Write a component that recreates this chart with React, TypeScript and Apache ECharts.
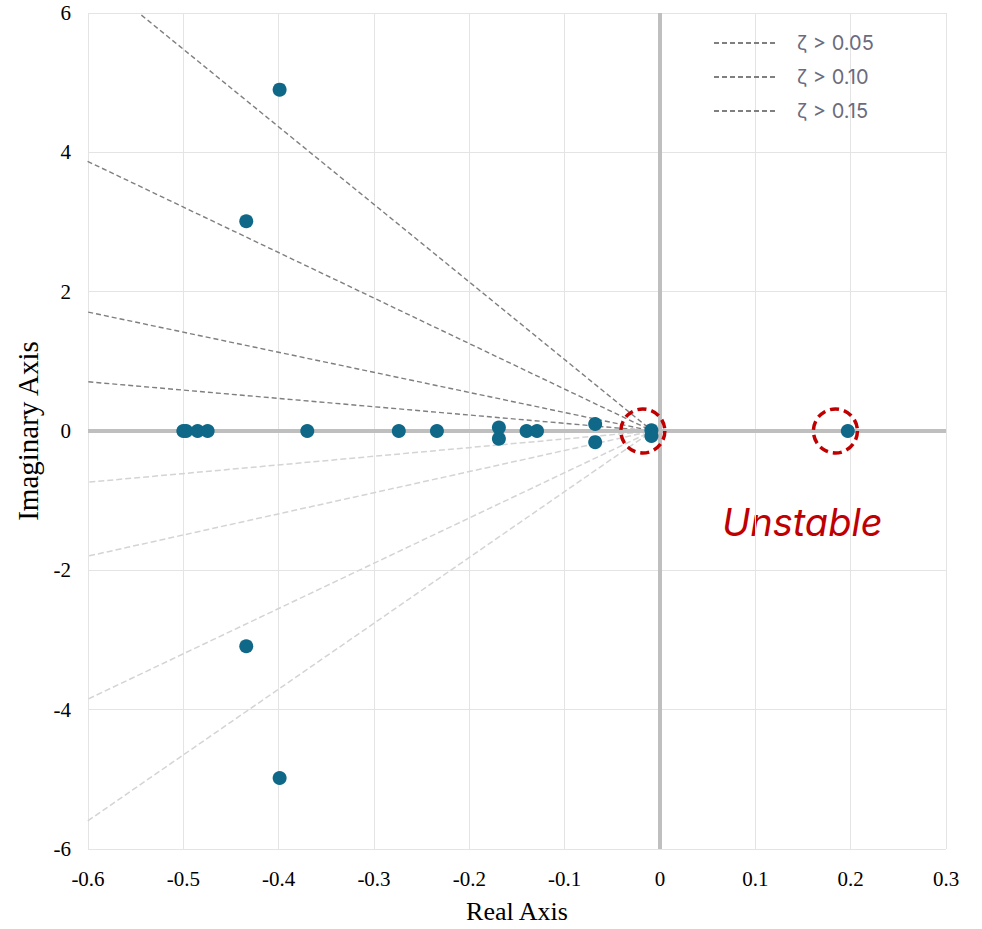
import React, { useEffect, useRef } from "react";
import * as echarts from "echarts";

// Poles (real part, imaginary part)
const poleRe = [-0.399, -0.434, -0.434, -0.399, -0.5, -0.497, -0.485, -0.4745, -0.37, -0.274, -0.234, -0.169, -0.169, -0.14, -0.129, -0.068, -0.068, -0.009, -0.009, 0.197];
const poleIm = [4.9, 3.01, -3.09, -4.98, 0, 0, 0, 0, 0, 0, 0, 0.05, -0.11, 0, 0, 0.1, -0.16, 0.01, -0.07, 0];

// Highlighted (dashed circle) locations
const circleRe = [-0.018, 0.184];
const circleIm = [0, 0];

// Damping lines: outer ends, all converge at origin point
const convergeRe = -0.008;
const convergeIm = 0;
const darkEndRe = [-0.544, -0.608, -0.608, -0.608];
const darkEndIm = [5.97, 3.92, 1.73, 0.716];
const lightEndRe = [-0.608, -0.608, -0.608, -0.608];
const lightEndIm = [-0.745, -1.82, -3.9, -5.67];
const legendNames = ["ζ > 0.05", "ζ > 0.10", "ζ > 0.15"];

const xTicks = { min: -0.6, max: 0.3, interval: 0.1 };
const yTicks = { min: -6, max: 6, interval: 2 };

export default function App() {
  const ref = useRef<HTMLDivElement>(null);
  useEffect(() => {
    if (!ref.current) return;
    const chart = echarts.init(ref.current, null, { renderer: "svg" });
    const serif = "'Liberation Serif', 'Times New Roman', serif";
    const darkSeries = darkEndRe.map((x, i) => ({
      type: "line",
      name: i < legendNames.length ? legendNames[i] : "dark" + i,
      data: [
        [x, darkEndIm[i]],
        [convergeRe, convergeIm],
      ],
      symbol: "none",
      clip: false,
      silent: true,
      z: 3,
      itemStyle: { color: "rgba(0,0,0,0)", opacity: 0 },
      lineStyle: { color: "#7f7f7f", width: 1.4, type: [5, 3] },
    }));
    const lightSeries = lightEndRe.map((x, i) => ({
      type: "line",
      name: "light" + i,
      data: [
        [x, lightEndIm[i]],
        [convergeRe, convergeIm],
      ],
      symbol: "none",
      clip: false,
      silent: true,
      z: 3,
      lineStyle: { color: "#d4d4d4", width: 1.5, type: [6, 3] },
    }));
    const option: any = {
      animation: false,
      grid: { left: 88, right: 36, top: 13, bottom: 77 },
      xAxis: {
        type: "value",
        min: xTicks.min,
        max: xTicks.max,
        interval: xTicks.interval,
        name: "Real Axis",
        nameLocation: "middle",
        nameGap: 49,
        nameTextStyle: { fontFamily: serif, fontSize: 26, color: "#000" },
        axisLine: { show: false },
        axisTick: { show: false },
        axisLabel: {
          margin: 19,
          fontFamily: serif,
          fontSize: 21,
          color: "#000",
          formatter: (v: number) => String(Math.round(v * 10) / 10),
        },
        splitLine: { show: true, lineStyle: { color: "#e4e4e4", width: 1 } },
      },
      yAxis: {
        type: "value",
        min: yTicks.min,
        max: yTicks.max,
        interval: yTicks.interval,
        name: "Imaginary Axis",
        nameLocation: "middle",
        nameGap: 40,
        nameTextStyle: { fontFamily: serif, fontSize: 29, color: "#000" },
        axisLine: { show: false },
        axisTick: { show: false },
        axisLabel: { margin: 17, fontFamily: serif, fontSize: 21, color: "#000" },
        splitLine: { show: true, lineStyle: { color: "#e4e4e4", width: 1 } },
      },
      legend: {
        data: legendNames,
        orient: "vertical",
        left: 708,
        top: 28,
        itemWidth: 62,
        itemHeight: 14,
        itemGap: 14,
        selectedMode: false,
        itemStyle: { opacity: 0 },
        textStyle: {
          fontFamily: "Inter, 'Open Sans', sans-serif",
          fontSize: 20,
          color: "#6b6b80",
          padding: [0, 0, 0, 16],
        },
      },
      series: [
        {
          type: "line",
          name: "axes",
          data: [],
          silent: true,
          z: 1,
          markLine: {
            silent: true,
            symbol: "none",
            label: { show: false },
            lineStyle: { color: "#bfbfbf", width: 4, type: "solid" },
            data: [{ xAxis: 0 }, { yAxis: 0 }],
          },
        },
        ...darkSeries,
        ...lightSeries,
        {
          type: "scatter",
          name: "poles",
          data: poleRe.map((x, i) => [x, poleIm[i]]),
          symbol: "circle",
          symbolSize: 14,
          z: 5,
          itemStyle: { color: "#0f6887", opacity: 1 },
        },
        {
          type: "scatter",
          name: "circles",
          data: circleRe.map((x, i) => [x, circleIm[i]]),
          symbol: "circle",
          symbolSize: 44,
          z: 6,
          silent: true,
          itemStyle: {
            color: "rgba(0,0,0,0)",
            opacity: 1,
            borderColor: "#c00000",
            borderWidth: 3.5,
            borderType: [9, 5],
          },
        },
      ],
      graphic: [
        {
          type: "text",
          left: 722,
          top: 503,
          style: {
            text: "Unstable",
            fontFamily: "Inter, 'Open Sans', sans-serif",
            fontStyle: "italic",
            fontSize: 38,
            fill: "#c00000",
          },
        },
      ],
    };
    chart.setOption(option);
    return () => chart.dispose();
  }, []);
  return <div ref={ref} style={{ width: 982, height: 929, position: "absolute", left: 0, top: 0 }} />;
}
